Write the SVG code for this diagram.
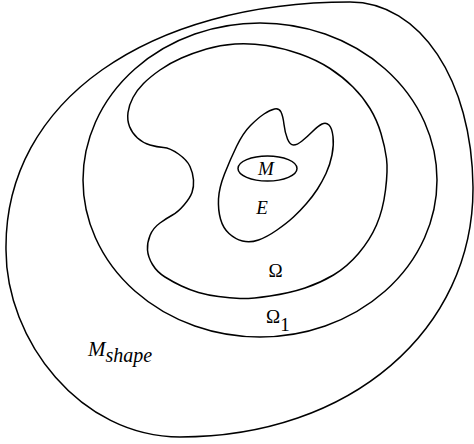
<svg xmlns="http://www.w3.org/2000/svg" width="474" height="444" viewBox="0 0 474 444">
<style>
.c{fill:none;stroke:#000;stroke-width:1.5}
.t{font-family:"Liberation Serif","Times New Roman",serif;fill:#000}
.i{font-style:italic}
</style>
<rect width="474" height="444" fill="#fff"/>
<g id="connectors"></g>
<g id="mshape">
<path class="c" d="M 350,2 C 420,2 472,80 473,187 C 474,330 350,437 180,437 C 80,437 6,340 6,250 C 4,100 150,2 350,2 Z"/>
<text class="t i" x="88" y="356" font-size="21">M<tspan font-size="20" dy="6">shape</tspan></text>
</g>
<g id="omega1">
<ellipse class="c" cx="260" cy="180" rx="177" ry="157"/>
<text class="t" x="266" y="323" font-size="19">Ω<tspan dy="8">1</tspan></text>
</g>
<g id="omega">
<path class="c" d="M 235,44 Q 250,43 266.5,45.5 Q 283,48 300,54 Q 317,60 330,68.5 Q 343,77 353,87 Q 363,97 370,108.5 Q 377,120 381,133.5 Q 385,147 386.5,158.5 Q 388,170 385.5,190 Q 383,210 376.5,225 Q 370,240 358.5,253.5 Q 347,267 333.5,275 Q 320,283 305,288 Q 290,293 270,296 Q 250,299 240,298.5 Q 230,298 218.5,296.5 Q 207,295 198.5,292.5 Q 190,290 181.5,286 Q 173,282 165,277 Q 157,272 152.5,264.5 Q 148,257 147.5,250 Q 147,243 150,235.5 Q 153,228 160,223 Q 167,218 172.5,215 Q 178,212 184,205 Q 190,198 192,192.5 Q 194,187 193.5,180 Q 193,173 190,166.5 Q 187,160 178.5,154 Q 170,148 163.5,147.5 Q 157,147 150,145 Q 143,143 137.5,138 Q 132,133 129.5,126.5 Q 127,120 128,112.5 Q 129,105 133,97.5 Q 137,90 143.5,83.5 Q 150,77 160,70 Q 170,63 181.5,58 Q 193,53 206.5,49 Q 220,45 235,44 Z"/>
<text class="t" x="275.5" y="277" font-size="19" text-anchor="middle">Ω</text>
</g>
<g id="E">
<path class="c" d="M 274.5,109 Q 279,108 281,112 Q 283,116 284,124.5 Q 285,133 287.5,139 Q 290,145 293.5,145 Q 297,145 302,141 Q 307,137 312.5,131.5 Q 318,126 322,124 Q 326,122 329,125 Q 332,128 333,136.5 Q 334,145 332,155 Q 330,165 326,173.5 Q 322,182 317.5,189 Q 313,196 306.5,203.5 Q 300,211 293.5,217 Q 287,223 277,230 Q 267,237 258.5,240 Q 250,243 242.5,241 Q 235,239 229,233.5 Q 223,228 220.5,219 Q 218,210 218.5,199 Q 219,188 224.5,174 Q 230,160 236.5,146.5 Q 243,133 250.5,125.5 Q 258,118 264,114 Q 270,110 274.5,109 Z"/>
<text class="t i" x="262" y="214" font-size="19" text-anchor="middle">E</text>
</g>
<g id="M">
<ellipse class="c" cx="267.5" cy="168.5" rx="29.5" ry="12.5"/>
<text class="t i" x="266" y="175" font-size="19" text-anchor="middle">M</text>
</g>
</svg>
